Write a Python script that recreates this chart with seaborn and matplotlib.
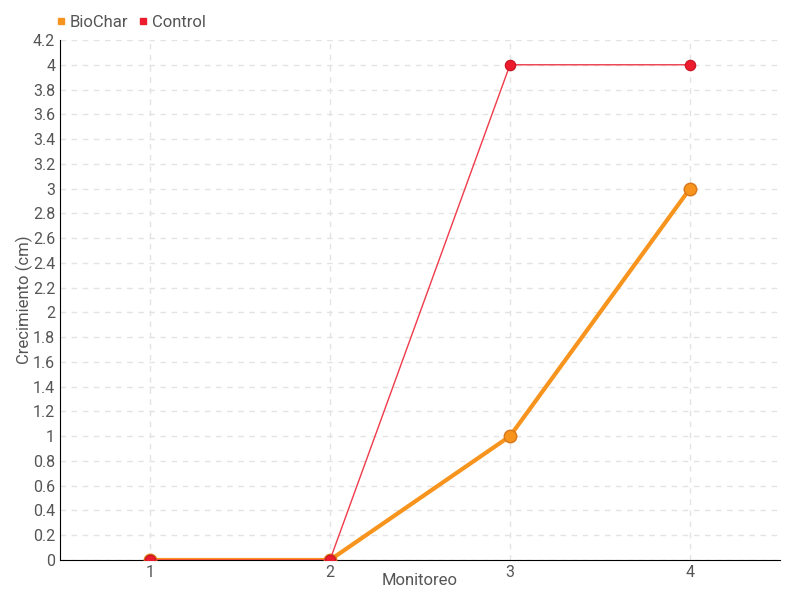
import pandas as pd
import numpy as np
import matplotlib
matplotlib.use("Agg")
import matplotlib.pyplot as plt
import seaborn as sns
from matplotlib.lines import Line2D

# Data
monitoreo = [1, 2, 3, 4]
biochar = [0, 0, 1, 3]
control = [0, 0, 4, 4]

df = pd.DataFrame({
    "Monitoreo": monitoreo * 2,
    "Crecimiento": biochar + control,
    "Grupo": ["BioChar"] * 4 + ["Control"] * 4,
})

sns.set_style("white")
plt.rcParams['font.family'] = ['Roboto', 'DejaVu Sans']

orange = "#F7941D"
red = "#EC1C2E"
text_col = "#555555"

fig = plt.figure(figsize=(8, 6), dpi=100)
ax = fig.add_axes([60 / 800, 40 / 600, 720 / 800, 520 / 600])

ctrl = df[df["Grupo"] == "Control"]
bio = df[df["Grupo"] == "BioChar"]

# BioChar below, Control on top
sns.lineplot(data=bio, x="Monitoreo", y="Crecimiento", color=orange, lw=3,
             marker="o", markersize=9, markeredgecolor="#D9761A",
             markeredgewidth=1, ax=ax, zorder=3)
sns.lineplot(data=ctrl, x="Monitoreo", y="Crecimiento", color="#F03A4A", lw=1,
             marker="o", markersize=7.5, markerfacecolor=red,
             markeredgecolor="#C8101F", markeredgewidth=0.8, ax=ax, zorder=4)

ax.set_xlim(0.5, 4.5)
ax.set_ylim(0, 4.2)
ax.set_xticks(monitoreo)
ax.set_xticklabels([str(m) for m in monitoreo])
yt = np.round(np.arange(0, 4.21, 0.2), 1)
ax.set_yticks(yt)
ax.set_yticklabels([("%g" % v) for v in yt])

ax.grid(True, color="#e3e3e3", linestyle=(0, (4, 4)), lw=1)
ax.set_axisbelow(True)
for s in ["top", "right"]:
    ax.spines[s].set_visible(False)
ax.spines["left"].set_color("black")
ax.spines["bottom"].set_color("black")
ax.tick_params(axis="both", colors="black", labelcolor=text_col, labelsize=11.5,
               direction="inout", length=5, width=1, pad=1)

ax.set_xlabel("Monitoreo", color=text_col, fontsize=12)
ax.set_ylabel("Crecimiento (cm)", color=text_col, fontsize=12)
ax.yaxis.set_label_coords(-0.05, 0.5)
ax.yaxis.label.set_va("center")
ax.xaxis.set_label_coords(0.5, -0.025)
ax.xaxis.label.set_va("top")

# Legend
handles = [Line2D([], [], marker="s", color=orange, lw=0, markersize=4),
           Line2D([], [], marker="s", color=red, lw=0, markersize=4)]
fig.legend(handles, ["BioChar", "Control"], loc="upper left",
           bbox_to_anchor=(0.052, 1.0), ncol=2, frameon=False,
           handlelength=0.5, handletextpad=0.3, columnspacing=0.6,
           fontsize=12, labelcolor=text_col)

fig.savefig("out.png", dpi=100)
